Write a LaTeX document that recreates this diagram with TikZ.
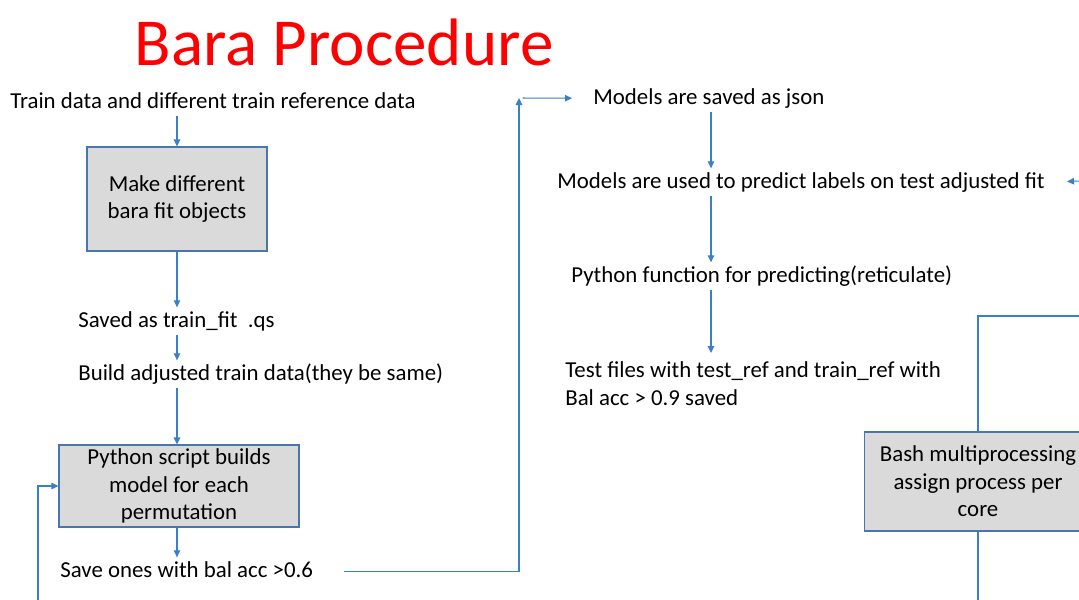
\documentclass[tikz,border=0pt]{standalone}
\usepackage{fontspec}
\setmainfont{Carlito}
\usepackage{tikz}
\usetikzlibrary{arrows.meta}
\usepackage{xcolor}
\definecolor{flowblue}{HTML}{3A7FC9}
\definecolor{boxline}{HTML}{4A76B0}
\definecolor{boxgray}{HTML}{DADADA}

\begin{document}
\begin{tikzpicture}[x=0.02cm,y=-0.02cm,>={Triangle[length=1.4mm,width=1.3mm]},
  flow/.style={draw=flowblue,line width=0.6pt},
  txt/.style={font=\fontsize{13}{15.6}\selectfont,inner xsep=0pt,inner ysep=1.5pt,text height=9.5pt,text depth=3pt},
  procbox/.style={draw=boxline,fill=boxgray,line width=0.6pt,align=center,inner sep=0pt,font=\fontsize{13}{15.6}\selectfont}]
\useasboundingbox (0,0) rectangle (1079,599);
\clip (0,0) rectangle (1079,599);
\node[text=red,font=\fontsize{38.2}{45}\selectfont] (title) at (344,42) {Bara Procedure};
\node[txt,anchor=base west] (t1) at (10,108) {Train data and different train reference data};
\node[procbox,minimum width=3.6cm,minimum height=2.08cm] (box1) at (177,199) {Make different\\bara fit objects};
\node[txt,anchor=base west] (t2) at (78,327) {Saved as train\_fit\ \ .qs};
\node[txt,anchor=base west] (t3) at (78,380) {Build adjusted train data(they be same)};
\node[procbox,minimum width=4.8cm,minimum height=1.64cm] (box2) at (179,486) {Python script builds\\model for each\\permutation};
\node[txt,anchor=base west] (t4) at (60,577) {Save ones with bal acc >0.6};
\node[txt,anchor=base west] (t5) at (593,104) {Models are saved as json};
\node[txt,anchor=base west] (t6) at (557,188) {Models are used to predict labels on test adjusted fit};
\node[txt,anchor=base west] (t7) at (571,282) {Python function for predicting(reticulate)};
\node[font=\fontsize{13}{15.6}\selectfont,inner xsep=0pt,inner ysep=1.5pt,anchor=north west,align=left] (t8) at (565,359) {Test files with test\_ref and train\_ref with\\Bal acc > 0.9 saved};
\node[procbox,minimum width=4.56cm,minimum height=1.98cm] (box3) at (978,481.5) {Bash multiprocessing\\assign process per\\core};
\coordinate (rcol) at (711,0);
\coordinate (up) at (519,98);
\coordinate (loop) at (38,600);
\coordinate (rin) at (1080,181);
\coordinate (rtop) at (1080,316);
\coordinate (rbot) at (978,600);
\draw[flow,->] (box1.north |- t1.south) -- (box1.north);
\draw[flow,->] (box1.south) -- (box1.south |- t2.north);
\draw[flow,->] (t2.south -| box1) -- (t3.north -| box1);
\draw[flow,->] (t3.south -| box1) -- (box2.north -| box1);
\draw[flow,->] (box2.south -| box1) -- (t4.north -| box1);
\draw[flow,->] (loop) |- (box2.west);
\draw[flow,->,shorten <=0.62cm] (t4.east) -| (up);
\draw[flow,->,shorten <=2pt,shorten >=0.42cm] (up) -- (t5.west);
\draw[flow,->] (t5.south -| rcol) -- (t6.north -| rcol);
\draw[flow,->,shorten >=0.44cm] (rin) -- (t6.east);
\draw[flow,->] (t6.south -| rcol) -- (t7.north -| rcol);
\draw[flow,->,shorten >=0.12cm] (t7.south -| rcol) -- (t8.north -| rcol);
\draw[flow] (box3.north) |- (rtop);
\draw[flow] (box3.south) -- (rbot);
\end{tikzpicture}
\end{document}
